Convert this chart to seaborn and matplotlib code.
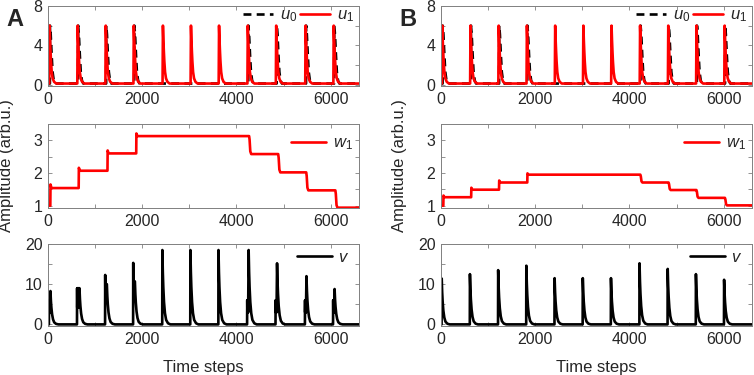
import numpy as np
import pandas as pd
import seaborn as sns
import matplotlib.pyplot as plt

# ---- values ----
# u1 spike times and u0 input pulse times (time steps)
u1_t_A = [34, 630, 1226, 1821, 2439, 3034, 3630, 4240, 4843, 5467, 6064]
u0_t_A = [42, 640, 1236, 1832, 4252, 4855, 5478, 6075]
u1_t_B = [27, 626, 1225, 1823, 2423, 3021, 3619, 4225, 4823, 5422, 6020]
u0_t_B = [36, 636, 1235, 1833, 4235, 4833, 5432, 6030]
u_peak = 6.0
u_base = 0.1

# spike shapes (offset in steps, fraction of peak)
u1_off = [-8, 0, 10, 20, 30, 45, 65, 95, 140]
u1_frac = [0, 1, 0.75, 0.55, 0.38, 0.2, 0.09, 0.03, 0]
u0_off = [-2, 0, 15, 35, 55, 80, 110]
u0_frac = [0, 1, 0.85, 0.5, 0.2, 0.05, 0]
v_off = [0, 10, 20, 35, 55, 80, 120, 170]
v_frac = [1, 0.7, 0.5, 0.3, 0.15, 0.06, 0.015, 0]

# w1 steps
w_rise_A = [49, 651, 1262, 1872]
w_drop_A = [4268, 4885, 5480, 6098]
w_lvl_A = [1.0, 1.54, 2.07, 2.60, 3.13, 2.58, 2.02, 1.47, 0.94]
w_over_A = [1.65, 2.16, 2.69, 3.21]
w_rise_B = [49, 640, 1231, 1831]
w_drop_B = [4230, 4829, 5420, 6025]
w_lvl_B = [1.0, 1.26, 1.49, 1.71, 1.95, 1.71, 1.48, 1.24, 1.01]
w_over_B = [1.31, 1.55, 1.77, 1.99]

# v bursts: first transient, oscillation hi/lo, burst length, main peak
v_spike_A = [6.1, 9.0, 12.3, 15.3, 18.5, 18.5, 18.5, 6.0, 6.0, 6.0, 6.0]
v_hi_A = [6.0, 9.0, 10.0, 10.7, 18.5, 18.5, 18.5, 6.0, 6.0, 6.0, 6.0]
v_lo_A = [3.0, 4.2, 7.0, 7.0, 18.5, 18.5, 18.5, 3.0, 3.0, 3.0, 3.0]
v_gap_A = [25, 45, 30, 30, 0, 0, 0, 25, 25, 25, 25]
v_peak_A = [8.3, 9.0, 10.0, 10.7, 18.5, 18.5, 18.5, 18.5, 15.2, 12.0, 8.8]
v_peak_B = [11.4, 12.5, 13.5, 14.6, 11.5, 11.5, 11.5, 15.2, 13.8, 12.5, 11.1]
v_gap_B = [0] * 11

t_end = 6600


def spikes(times, peak, base, off, frac):
    t, y = [0], [base]
    for t0 in times:
        for o, f in zip(off, frac):
            t.append(t0 + o)
            y.append(base + (peak - base) * f)
    t.append(t_end)
    y.append(base)
    return pd.DataFrame({"t": t, "y": y})


def steps(rise, drop, lvl, over):
    t, y = [0], [lvl[0]]
    for i, r in enumerate(rise):
        t += [r, r + 4, r + 25]
        y += [lvl[i], over[i], lvl[i + 1]]
    for i, d in enumerate(drop):
        k = 4 + i
        dl = lvl[k] - lvl[k + 1]
        t += [d, d + 10, d + 25, d + 45]
        y += [lvl[k], lvl[k] - 0.2 * dl, lvl[k] - 0.85 * dl, lvl[k + 1]]
    t.append(t_end)
    y.append(lvl[-1])
    return pd.DataFrame({"t": t, "y": y})


def bursts(times, spike, hi, lo, gap, peak):
    t, y = [0], [0]
    for i, t0 in enumerate(times):
        t0 = t0 - 15
        g = gap[i]
        t += [t0, t0 + 3]
        y += [0, spike[i]]
        s = t0 + 6
        flip = True
        while s < t0 + g:
            t.append(s)
            y.append(lo[i] if flip else hi[i])
            flip = not flip
            s += 4
        tp = t0 + g + 8 if g else t0 + 3
        for o, f in zip(v_off, v_frac):
            if o == 0 and not g:
                continue
            t.append(tp + o)
            y.append(peak[i] * f)
    t.append(t_end)
    y.append(0)
    return pd.DataFrame({"t": t, "y": y})


sns.set_theme(style="ticks")
plt.rcParams["font.family"] = ["Liberation Sans", "DejaVu Sans"]
plt.rcParams["mathtext.fontset"] = "custom"
plt.rcParams["mathtext.it"] = "Liberation Sans:italic"
plt.rcParams["mathtext.rm"] = "Liberation Sans"

fig = plt.figure(figsize=(7.54, 3.75), dpi=100)
gray = "#808080"
lw = 1.9

cols = {
    "A": dict(left=48 / 754, u1=u1_t_A, u0=u0_t_A, wr=w_rise_A, wd=w_drop_A, wl=w_lvl_A, wo=w_over_A,
              v=bursts(u1_t_A, v_spike_A, v_hi_A, v_lo_A, v_gap_A, v_peak_A)),
    "B": dict(left=441 / 754, u1=u1_t_B, u0=u0_t_B, wr=w_rise_B, wd=w_drop_B, wl=w_lvl_B, wo=w_over_B,
              v=bursts(u1_t_B, v_peak_B, v_peak_B, v_peak_B, v_gap_B, v_peak_B)),
}
rows = [(6, 86), (124, 208), (244, 326)]

for name, c in cols.items():
    axs = []
    for top, bot in rows:
        ax = fig.add_axes([c["left"], 1 - bot / 375, 311 / 754, (bot - top) / 375])
        axs.append(ax)

    ax = axs[0]
    sns.lineplot(data=spikes(c["u0"], u_peak, u_base, u0_off, u0_frac), x="t", y="y", ax=ax,
                 color="black", lw=lw, ls=(0, (3.0, 2.0)), sort=False, estimator=None, label="$u_0$")
    sns.lineplot(data=spikes(c["u1"], u_peak, u_base, u1_off, u1_frac), x="t", y="y", ax=ax,
                 color="#ff0000", lw=lw, sort=False, estimator=None, label="$u_1$")
    ax.set_ylim(-0.15, 8)
    ax.set_yticks([0, 2, 4, 6, 8], ["0", "", "4", "", "8"])
    ax.legend(loc="upper right", bbox_to_anchor=(0.99, 1.0), ncol=2, frameon=False, fontsize=12,
              handlelength=1.8, columnspacing=0.2, handletextpad=0.4, borderaxespad=0.0, borderpad=0.1)

    ax = axs[1]
    sns.lineplot(data=steps(c["wr"], c["wd"], c["wl"], c["wo"]), x="t", y="y", ax=ax,
                 color="#ff0000", lw=lw, sort=False, estimator=None, label="$w_1$")
    ax.set_ylim(0.93, 3.5)
    ax.set_yticks([1, 1.5, 2, 2.5, 3], ["1", "", "2", "", "3"])
    ax.legend(loc="upper right", bbox_to_anchor=(0.985, 0.88), frameon=False, fontsize=12,
              handlelength=2.1, handletextpad=0.4, borderaxespad=0.0, borderpad=0.1)
    ax.set_ylabel("Amplitude (arb.u.)", fontsize=12, color="#262626")
    ax.yaxis.set_label_coords(-0.108, 0.5)

    ax = axs[2]
    sns.lineplot(data=c["v"], x="t", y="y", ax=ax, color="black", lw=lw,
                 sort=False, estimator=None, label="$v$")
    ax.set_ylim(-0.4, 20)
    ax.set_yticks([0, 5, 10, 15, 20], ["0", "", "10", "", "20"])
    ax.legend(loc="upper right", bbox_to_anchor=(0.975, 0.95), frameon=False, fontsize=12,
              handlelength=2.1, handletextpad=0.4, borderaxespad=0.0, borderpad=0.1)
    ax.set_xlabel("Time steps", fontsize=12, color="#262626", labelpad=10)

    for i, ax in enumerate(axs):
        ax.set_xlim(0, t_end)
        ax.set_xticks(range(0, 7000, 1000), ["0", "", "2000", "", "4000", "", "6000"])
        if i < 2:
            ax.set_xlabel("")
        if i != 1:
            ax.set_ylabel("")
        ax.tick_params(direction="in", length=3, width=0.6, top=True, right=True,
                       labelsize=11.5, colors=gray, labelcolor="#262626", pad=4)
        for s in ax.spines.values():
            s.set_color(gray)
            s.set_linewidth(0.7)

    fig.text(c["left"] - 42 / 754, 1 - 20 / 375, name, fontsize=17, fontweight="bold", va="center")

fig.savefig("out.png", dpi=100)
